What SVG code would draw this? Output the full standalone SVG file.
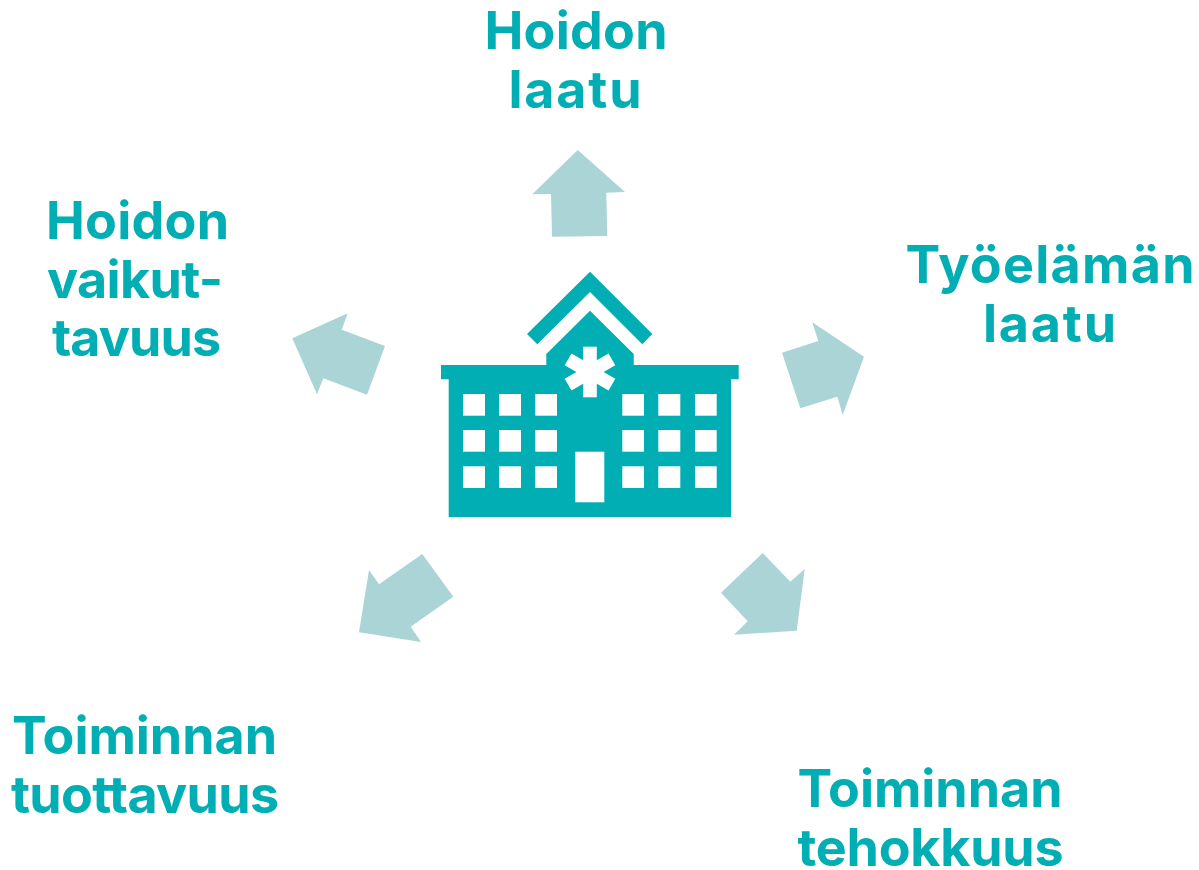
<svg xmlns="http://www.w3.org/2000/svg" width="1199" height="870" viewBox="0 0 1199 870">
<style>
.t{font-family:"Inter","Lato","Liberation Sans",sans-serif;font-weight:700;font-size:52px;fill:#00aeb3;text-anchor:middle;font-variant-ligatures:none}
.a{fill:#abd4d7}
.b{fill:#00aeb3}
.w{fill:#fff}
</style>
<rect width="1199" height="870" fill="#fff"/>
<g id="connectors">
<polygon class="a" points="577.7,150 625,192 606.3,192.7 607.3,236 552,236.7 551,194 532.3,194.3"/>
<polygon class="a" points="812.3,322.3 864,356.7 842.7,415 837.3,396.7 800.3,408.3 782,352.7 818.3,341"/>
<polygon class="a" points="762.7,553 790.3,581.7 804.7,569 796.7,630.7 734,634.7 747.7,621.3 721,592.7"/>
<polygon class="a" points="422.3,554 453.3,596.7 410.7,626.7 421,642 359,632.3 369,570 379,584.3"/>
<polygon class="a" points="292.3,338.3 347.7,313.3 341.7,329.7 385,346 367,394.7 323.3,378.3 317,394.3"/>
</g>
<g id="hospital">
<polygon class="b" points="590,271.7 652.3,334 642.3,344.3 590,292 537.3,344.3 527,334"/>
<polygon class="b" points="590,310.7 633.7,354 633.7,365 738.7,365 738.7,379.3 731,379.3 731,517 448.7,517 448.7,379.3 441,379.3 441,365 546.3,365 546.3,354"/>
<g class="w">
<rect x="583.2" y="346.7" width="13.6" height="50.6"/>
<rect x="583.2" y="346.7" width="13.6" height="50.6" transform="rotate(60 590 372)"/>
<rect x="583.2" y="346.7" width="13.6" height="50.6" transform="rotate(-60 590 372)"/>
<rect x="463" y="394" width="22" height="21.7"/><rect x="499" y="394" width="22" height="21.7"/><rect x="535.3" y="394" width="21.7" height="21.7"/>
<rect x="622.3" y="394" width="21.7" height="21.7"/><rect x="658.3" y="394" width="22" height="21.7"/><rect x="695" y="394" width="21.7" height="21.7"/>
<rect x="463" y="430" width="22" height="21.7"/><rect x="499" y="430" width="22" height="21.7"/><rect x="535.3" y="430" width="21.7" height="21.7"/>
<rect x="622.3" y="430" width="21.7" height="21.7"/><rect x="658.3" y="430" width="22" height="21.7"/><rect x="695" y="430" width="21.7" height="21.7"/>
<rect x="463" y="466.3" width="22" height="21.7"/><rect x="499" y="466.3" width="22" height="21.7"/><rect x="535.3" y="466.3" width="21.7" height="21.7"/>
<rect x="622.3" y="466.3" width="21.7" height="21.7"/><rect x="658.3" y="466.3" width="22" height="21.7"/><rect x="695" y="466.3" width="21.7" height="21.7"/>
<rect x="575.3" y="451.7" width="29" height="50.6"/>
</g>
</g>
<g id="hoidon-laatu"><text class="t" x="576" y="49" textLength="183">Hoidon</text><text class="t" x="575" y="108" textLength="133">laatu</text></g>
<g id="tyoelaman-laatu"><text class="t" x="1050" y="283" textLength="289">Työelämän</text><text class="t" x="1049.500" y="342" textLength="133">laatu</text></g>
<g id="toiminnan-tehokkuus"><text class="t" x="930" y="807" textLength="265">Toiminnan</text><text class="t" x="930.500" y="866" textLength="266">tehokkuus</text></g>
<g id="toiminnan-tuottavuus"><text class="t" x="144.500" y="754" textLength="265">Toiminnan</text><text class="t" x="145" y="813" textLength="268">tuottavuus</text></g>
<g id="hoidon-vaikuttavuus"><text class="t" x="137.500" y="239" textLength="183">Hoidon</text><text class="t" x="135" y="298" textLength="176">vaikut-</text><text class="t" x="136.500" y="356" textLength="169">tavuus</text></g>
</svg>
